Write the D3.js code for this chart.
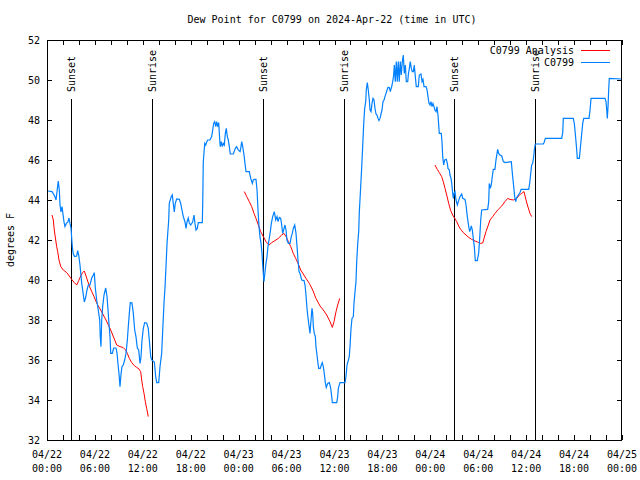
<!DOCTYPE html>
<html>
<head>
<meta charset="utf-8">
<script src="https://cdn.jsdelivr.net/npm/d3@7"></script>
<style>
  html, body { margin: 0; padding: 0; background: #fff; }
  svg { display: block; }
  text { font-family: "DejaVu Sans Mono", "Liberation Mono", monospace; font-size: 10px; fill: #000; }
</style>
</head>
<body>
<script>
// ---- Data (times are hours after 2024-04-22 00:00 UTC) ----
const title = "Dew Point for C0799 on 2024-Apr-22 (time in UTC)";
const yLabel = "degrees F";
const seriesNames = ["C0799 Analysis", "C0799"];
const yTicks = [32, 34, 36, 38, 40, 42, 44, 46, 48, 50, 52];

const obsHours = [0.13,0.63,0.96,1.13,1.41,1.54,1.63,1.75,1.88,1.97,2.13,2.25,2.42,2.63,2.75,2.88,3.01,3.09,3.17,3.29,3.47,3.72,3.84,3.97,4.13,4.35,4.55,4.67,4.85,5.01,5.17,5.38,5.6,5.8,5.92,6.05,6.22,6.42,6.6,6.67,6.76,6.85,6.97,7.14,7.35,7.51,7.64,7.76,7.89,7.98,8.18,8.35,8.64,8.77,8.89,9.02,9.14,9.27,9.39,9.55,9.73,9.89,10.06,10.18,10.31,10.43,10.64,10.81,10.98,11.14,11.31,11.48,11.65,11.77,11.9,12.06,12.23,12.48,12.68,12.81,12.99,13.11,13.44,13.61,13.74,13.99,14.15,14.36,14.49,14.65,14.78,14.9,15.03,15.24,15.31,15.56,15.69,15.81,15.94,16.06,16.24,16.57,16.74,16.9,17.07,17.28,17.41,17.53,17.69,17.82,17.99,18.24,18.41,18.53,18.66,18.82,18.95,19.45,19.5,19.57,19.75,19.87,20.0,20.12,20.41,20.62,20.75,20.87,21.0,21.13,21.25,21.38,21.5,21.63,21.7,21.83,21.95,22.08,22.2,22.33,22.45,22.58,22.7,22.83,22.95,23.33,23.58,23.75,23.95,24.17,24.26,24.38,24.51,24.67,24.79,24.92,25.33,25.51,25.71,25.83,25.96,26.17,26.3,26.42,26.55,26.67,26.8,26.92,27.05,27.17,27.3,27.42,27.55,27.67,27.8,27.96,28.09,28.26,28.46,28.64,28.8,28.93,29.09,29.26,29.39,29.51,29.68,29.8,29.93,30.05,30.22,30.43,30.59,30.72,30.84,31.02,31.18,31.31,31.43,31.56,31.68,31.89,32.18,32.31,32.43,32.52,32.64,32.77,32.85,32.93,33.06,33.18,33.27,33.35,33.47,33.6,33.68,33.81,33.93,34.02,34.22,34.35,34.47,34.6,34.72,34.85,34.97,35.15,35.35,35.53,35.65,35.73,36.28,36.4,36.48,36.69,37.32,37.44,37.57,37.85,37.94,38.07,38.19,38.36,38.44,38.57,38.69,38.78,38.91,39.03,39.11,39.28,39.41,39.53,39.66,39.78,39.91,39.98,40.11,40.23,40.36,40.45,40.57,40.7,40.82,40.95,41.07,41.2,41.32,41.45,41.57,41.7,41.82,41.95,42.07,42.2,42.32,42.45,42.58,42.7,42.87,42.99,43.16,43.29,43.41,43.49,43.61,43.74,43.86,43.99,44.11,44.24,44.36,44.49,44.61,44.74,44.87,44.99,45.17,45.24,45.37,45.49,45.62,45.74,45.87,45.99,46.12,46.24,46.49,46.62,46.83,46.96,47.08,47.21,47.46,47.58,47.71,47.83,47.96,48.08,48.21,48.33,48.46,48.58,48.71,48.83,48.96,49.12,49.37,49.46,49.55,49.67,49.8,50.0,50.13,50.21,50.38,50.46,50.59,50.68,50.8,50.88,50.96,51.09,51.21,51.38,51.5,51.72,51.93,52.05,52.34,52.47,52.63,52.81,52.93,53.06,53.13,53.26,53.38,53.51,53.63,53.88,54.06,54.18,54.31,54.43,55.18,55.31,55.38,55.51,55.63,55.76,55.88,56.09,56.22,56.35,56.43,56.56,56.72,56.94,57.14,57.35,58.14,58.31,58.44,58.56,58.69,58.82,59.02,59.23,59.36,60.32,60.44,60.57,60.69,60.82,60.94,61.02,61.14,62.15,62.27,62.4,64.45,64.58,64.65,65.9,66.03,66.15,66.33,66.4,66.66,66.78,66.96,67.08,67.21,67.87,68.0,68.12,69.87,70.0,70.09,70.16,70.25,70.34,70.41,71.96];
const obsValues = [44.45,44.42,44.2,44.0,44.95,44.5,43.75,43.4,43.67,43.4,42.9,42.67,42.83,42.9,43.1,42.83,42.6,42.1,41.67,41.3,41.17,41.2,41.47,41.25,40.75,39.83,39.25,38.9,39.15,39.5,39.75,39.75,40.1,40.25,40.37,39.6,39.0,38.5,38.0,37.17,36.67,38.0,38.67,39.25,39.6,39.2,38.5,37.8,37.17,36.33,36.33,36.6,36.6,36.33,35.8,35.3,34.67,35.3,35.67,35.75,36.0,36.33,37.0,37.67,38.33,38.87,38.85,38.33,37.5,37.17,36.6,36.5,35.83,36.15,37.0,37.58,37.87,37.85,37.58,37.0,36.17,36.0,35.9,35.17,34.87,34.87,35.67,36.33,37.5,38.83,39.67,40.67,41.83,43.0,43.83,44.17,44.25,43.83,43.4,43.83,44.05,44.03,43.83,43.5,43.17,42.9,42.58,42.9,43.1,42.85,42.75,42.9,43.25,42.83,42.5,42.58,42.87,42.87,43.9,45.9,46.83,46.75,46.9,47.0,47.0,47.17,47.5,47.83,47.92,47.67,47.92,47.67,47.87,47.0,46.67,46.92,46.67,46.83,46.75,47.33,47.58,47.17,47.0,46.67,46.3,46.3,46.58,46.67,46.5,46.42,46.58,46.92,46.67,46.25,45.83,45.42,45.42,45.08,44.83,45.0,45.03,45.03,44.5,43.5,42.67,42.17,41.83,41.33,40.5,39.92,40.42,40.83,41.17,41.67,42.0,42.42,42.83,43.17,43.42,43.0,43.17,42.92,43.13,43.08,42.75,42.33,42.58,42.75,42.5,42.0,41.83,41.83,42.17,42.33,42.58,42.75,42.33,41.67,41.0,40.42,40.33,40.0,39.97,39.75,39.25,38.75,38.25,37.83,37.58,37.33,38.0,38.58,38.33,37.67,37.33,37.17,36.67,36.25,35.83,35.58,35.58,35.75,35.87,35.67,35.33,34.87,34.63,34.83,34.87,34.58,34.17,33.87,33.87,34.17,34.58,34.87,34.87,35.17,35.75,36.17,36.67,37.58,38.08,38.17,38.83,39.42,39.92,40.92,41.83,42.42,43.42,44.67,45.67,46.67,47.83,48.58,48.92,49.5,49.87,49.5,49.0,48.5,48.42,48.83,49.08,49.0,48.58,48.3,48.25,48.08,47.97,48.08,48.3,48.5,48.92,49.0,49.17,49.33,49.5,49.63,49.62,49.42,49.67,49.92,50.25,50.75,49.92,50.92,49.92,50.92,49.92,50.92,50.25,50.92,51.25,50.33,50.75,49.92,49.92,50.25,50.58,50.92,50.58,50.42,50.42,50.75,50.17,49.67,49.67,50.25,50.3,49.92,50.03,49.67,49.67,49.53,49.17,48.83,48.75,48.92,48.67,48.83,48.67,48.5,48.42,48.67,48.25,47.33,47.33,46.92,46.17,45.75,46.0,46.03,45.83,45.58,45.5,45.25,45.08,44.83,44.33,44.08,44.33,44.42,44.0,43.75,43.92,44.17,44.3,44.08,44.03,43.75,43.17,42.67,42.42,42.58,42.7,42.5,42.08,41.67,40.97,40.97,41.37,42.08,43.0,43.5,43.53,43.92,44.83,44.58,44.75,45.17,45.53,45.53,46.0,46.33,46.53,46.33,46.25,46.2,45.92,45.87,45.92,45.17,44.67,44.17,43.92,44.13,44.25,44.37,44.53,44.53,44.83,45.33,45.75,45.83,46.17,46.5,46.8,46.8,46.9,47.08,47.08,47.37,48.08,48.08,47.83,47.33,46.5,46.08,46.08,46.58,47.33,47.83,48.08,48.08,48.5,49.08,49.08,48.92,48.5,48.08,48.67,49.58,50.08,50.05];

// Analysis series: null marks a gap between runs
const anaHours = [0.63,0.79,0.91,1.09,1.21,1.34,1.5,1.72,2.04,2.47,2.79,3.09,3.42,3.72,3.97,4.22,4.47,4.67,4.85,5.05,5.3,5.6,5.89,6.14,6.42,6.72,7.05,7.39,7.68,7.98,8.23,8.51,8.73,9.14,9.55,9.85,10.06,10.31,10.61,10.93,11.23,11.52,11.73,11.86,11.98,12.15,12.31,12.48,12.68,
  18.0,
  24.71,25.01,25.33,25.63,25.92,26.17,26.46,26.76,27.09,27.42,27.8,28.14,28.55,28.96,29.39,29.68,29.93,30.22,30.52,30.84,31.14,31.47,31.77,32.09,32.43,32.85,33.27,33.68,34.19,34.6,35.02,35.44,35.73,35.94,36.19,36.4,36.65,
  42.0,
  48.58,48.87,49.12,49.42,49.62,49.84,50.05,50.3,50.55,50.8,51.05,51.3,51.55,51.8,52.13,52.47,52.81,53.18,53.6,54.01,54.31,54.56,54.72,54.97,55.26,55.47,55.81,56.1,56.51,56.94,57.35,57.69,57.98,58.39,58.82,59.14,59.44,59.73,59.98,60.19,60.48,60.69];
const anaValues = [43.25,43.0,42.5,42.0,41.67,41.42,41.0,40.67,40.5,40.37,40.2,40.03,39.87,39.75,39.97,40.2,40.37,40.45,40.25,40.0,39.7,39.42,39.17,38.92,38.7,38.5,38.25,38.0,37.75,37.5,37.25,36.97,36.75,36.67,36.62,36.5,36.33,36.08,35.87,35.72,35.63,35.55,35.42,35.0,34.67,34.33,33.92,33.58,33.17,
  null,
  44.42,44.17,43.92,43.67,43.33,43.08,42.75,42.42,42.17,41.92,41.75,41.87,41.97,42.08,42.25,42.33,42.17,41.92,41.67,41.33,41.08,40.8,40.5,40.3,40.08,39.83,39.5,39.08,38.7,38.5,38.25,37.92,37.63,37.92,38.42,38.75,39.08,
  null,
  45.75,45.53,45.37,45.17,44.92,44.58,44.25,43.83,43.47,43.25,43.08,42.92,42.7,42.53,42.37,42.25,42.13,42.03,41.95,41.88,41.83,41.85,42.08,42.42,42.75,43.0,43.17,43.33,43.53,43.7,43.92,44.08,44.03,44.0,44.08,44.25,44.33,44.42,44.0,43.7,43.33,43.17];

const sunsetHours = [3.04, 27.09, 51.0];
const sunriseHours = [13.19, 37.23, 61.15];

// ---- Chart ----
const W = 640, H = 480;
const mLeft = 47, mRight = 622, mTop = 40, mBottom = 440;
const t0 = Date.UTC(2024, 3, 22);
const toDate = h => new Date(t0 + h * 3600000);

const x = d3.scaleUtc().domain([toDate(0), toDate(72)]).range([mLeft, mRight]);
const y = d3.scaleLinear().domain([32, 52]).range([mBottom, mTop]);

const svg = d3.select("body").append("svg").attr("width", W).attr("height", H);

// Title and axis label
svg.append("text").attr("x", 332).attr("y", 23).attr("text-anchor", "middle").text(title);
svg.append("text").attr("transform", "translate(14,240) rotate(-90)").attr("text-anchor", "middle").text(yLabel);

// Ticks (inward, mirrored)
const tickLen = 5;
const xTickVals = d3.utcHour.every(2).range(toDate(0), toDate(72.01));
const axG = svg.append("g").attr("shape-rendering", "crispEdges");
axG.append("g").attr("transform", `translate(0,${mBottom})`)
  .call(d3.axisBottom(x).tickValues(xTickVals).tickSize(-tickLen).tickFormat(""))
  .call(g => g.select(".domain").remove());
axG.append("g").attr("transform", `translate(0,${mTop})`)
  .call(d3.axisTop(x).tickValues(xTickVals).tickSize(-tickLen).tickFormat(""))
  .call(g => g.select(".domain").remove());
axG.append("g").attr("transform", `translate(${mLeft},0)`)
  .call(d3.axisLeft(y).tickValues(yTicks).tickSize(-tickLen).tickFormat(""))
  .call(g => g.select(".domain").remove());
axG.append("g").attr("transform", `translate(${mRight},0)`)
  .call(d3.axisRight(y).tickValues(yTicks).tickSize(-tickLen).tickFormat(""))
  .call(g => g.select(".domain").remove());
axG.selectAll(".tick line").attr("stroke", "#000");

// Y tick labels
svg.append("g").selectAll("text").data(yTicks).join("text")
  .attr("x", mLeft - 7).attr("y", d => y(d)).attr("dy", "0.35em")
  .attr("text-anchor", "end").text(d => d);

// X tick labels every 6 hours, two lines
const xLabVals = d3.utcHour.every(6).range(toDate(0), toDate(72.01));
const fDate = d3.utcFormat("%m/%d"), fTime = d3.utcFormat("%H:%M");
const xl = svg.append("g").selectAll("text").data(xLabVals).join("text")
  .attr("text-anchor", "middle");
xl.append("tspan").attr("x", d => x(d)).attr("y", 458).text(d => fDate(d));
xl.append("tspan").attr("x", d => x(d)).attr("y", 472).text(d => fTime(d));

// Sunrise / sunset markers
const events = sunsetHours.map(h => ({h, label: "Sunset"}))
  .concat(sunriseHours.map(h => ({h, label: "Sunrise"})));
svg.append("g").attr("shape-rendering", "crispEdges").selectAll("line").data(events).join("line")
  .attr("x1", d => Math.round(x(toDate(d.h))) + 0.5).attr("x2", d => Math.round(x(toDate(d.h))) + 0.5)
  .attr("y1", 99).attr("y2", mBottom).attr("stroke", "#000").attr("stroke-width", 1);
svg.append("g").selectAll("text").data(events).join("text")
  .attr("transform", d => `translate(${Math.round(x(toDate(d.h))) + 0.5},92) rotate(-90)`)
  .attr("dy", "0.35em").attr("text-anchor", "start").text(d => d.label);

// Data lines
const obs = obsHours.map((h, i) => ({t: toDate(h), v: obsValues[i]}));
const ana = anaHours.map((h, i) => ({t: toDate(h), v: anaValues[i]}));
const line = d3.line().defined(d => d.v !== null).x(d => x(d.t)).y(d => y(d.v));

svg.append("path").datum(ana).attr("d", line)
  .attr("fill", "none").attr("stroke", "#ff0000").attr("stroke-width", 1);
svg.append("path").datum(obs).attr("d", line)
  .attr("fill", "none").attr("stroke", "#0080ff").attr("stroke-width", 1.2);

// Legend
const legend = [{name: seriesNames[0], color: "#ff0000", y: 50}, {name: seriesNames[1], color: "#0080ff", y: 62}];
const lg = svg.append("g");
lg.selectAll("text").data(legend).join("text")
  .attr("x", 574).attr("y", d => d.y).attr("dy", "0.35em").attr("text-anchor", "end").text(d => d.name);
lg.selectAll("line").data(legend).join("line")
  .attr("x1", 581).attr("x2", 610).attr("y1", d => d.y + 0.5).attr("y2", d => d.y + 0.5)
  .attr("stroke", d => d.color).attr("stroke-width", 1);

// Border
svg.append("rect").attr("x", mLeft + 0.5).attr("y", mTop + 0.5)
  .attr("width", mRight - mLeft - 1).attr("height", mBottom - mTop)
  .attr("fill", "none").attr("stroke", "#000").attr("shape-rendering", "crispEdges");
</script>
</body>
</html>
